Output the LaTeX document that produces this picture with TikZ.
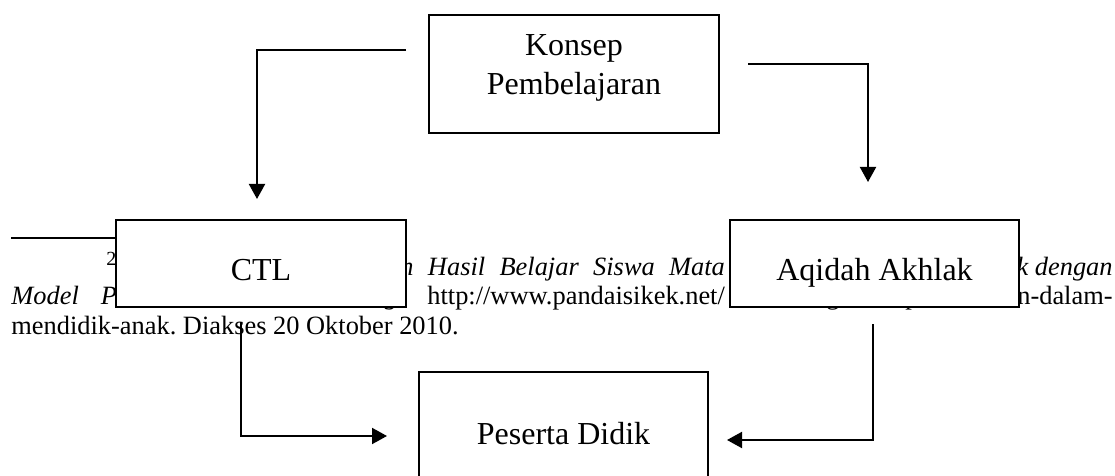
\documentclass[tikz,border=0pt]{standalone}
\usepackage{fontspec}
\setmainfont{Liberation Serif}
\frenchspacing
\usetikzlibrary{arrows.meta,calc,positioning}

\tikzset{
  kotak/.style={draw,line width=1pt,fill=white,inner sep=0pt},
  isi/.style={font=\fontsize{16}{19.5}\selectfont,inner sep=0pt,anchor=base,align=center},
  catatan/.style={font=\fontsize{13.2}{15}\selectfont,inner sep=0pt,anchor=base west},
  panah/.style={line width=1pt,-{Triangle[width=8pt,length=7.5pt]}},
}

\begin{document}
\begin{tikzpicture}[x=0.5pt,y=-0.5pt]
\useasboundingbox (0,0) rectangle (1115,476);
\clip (0,0) rectangle (1115,476);
\fill[white] (0,0) rectangle (1115,476);
% footnote underneath
\draw[line width=1pt] (11,238) -- (160,238);
\node[catatan] (fn-no) at (106,275) {\raisebox{5pt}{\fontsize{10}{10}\selectfont 2}};
\node[catatan] (fn-a) at (400,275) {\itshape\spaceskip=7.2pt n Hasil Belajar Siswa Mata};
\node[catatan,anchor=base east] (fn-b) at (1113,275) {\itshape k dengan};
\node[catatan] (fn-c) at (11,305) {\itshape Model\hspace{11pt}P};
\node[catatan,anchor=base east] (fn-d) at (405,305) {\itshape g,};
\node[catatan] (fn-e) at (427,305) {http://www.pandaisikek.net/};
\node[catatan] (fn-f) at (826,305) {g};
\node[catatan] (fn-g) at (905,305) {p};
\node[catatan,anchor=base east] (fn-h) at (1113,305) {n-dalam-};
\node[catatan] (fn-i) at (11,334) {mendidik-anak. Diakses 20 Oktober 2010.};
% kotak
\node[kotak,minimum width=145pt,minimum height=59pt] (konsep) at (574,74) {};
\node[kotak,minimum width=145pt,minimum height=43.5pt] (ctl) at (261,263.5) {};
\node[kotak,minimum width=144.5pt,minimum height=43.5pt] (aqidah) at (874.5,263.5) {};
\node[kotak,minimum width=144.5pt,minimum height=64pt] (peserta) at (563.5,436) {};
\node[isi] (konsep-t) at (574,95) {Konsep\\Pembelajaran};
\node[isi] (ctl-t) at (261,280) {CTL};
\node[isi] (aqidah-t) at (874.5,280) {Aqidah Akhlak};
\node[isi] (peserta-t) at (563.5,444) {Peserta Didik};
% panah
\coordinate (ka) at ([xshift=-11pt,yshift=12pt]konsep.west);
\coordinate (kb) at ([xshift=-2pt,yshift=10pt]ctl.north);
\coordinate (kc) at ([xshift=14pt,yshift=5pt]konsep.east);
\coordinate (kd) at ([xshift=-3.25pt,yshift=18.5pt]aqidah.north);
\coordinate (ke) at ([xshift=-10pt,yshift=-7pt]ctl.south);
\coordinate (kf) at ([xshift=-15.5pt]peserta.west);
\coordinate (kg) at ([xshift=-0.75pt,yshift=-8pt]aqidah.south);
\coordinate (kh) at ([xshift=9pt,yshift=-2pt]peserta.east);
\draw[panah] (ka) -| (kb);
\draw[panah] (kc) -| (kd);
\draw[panah] (ke) |- (kf);
\draw[panah] (kg) |- (kh);
\end{tikzpicture}
\end{document}
